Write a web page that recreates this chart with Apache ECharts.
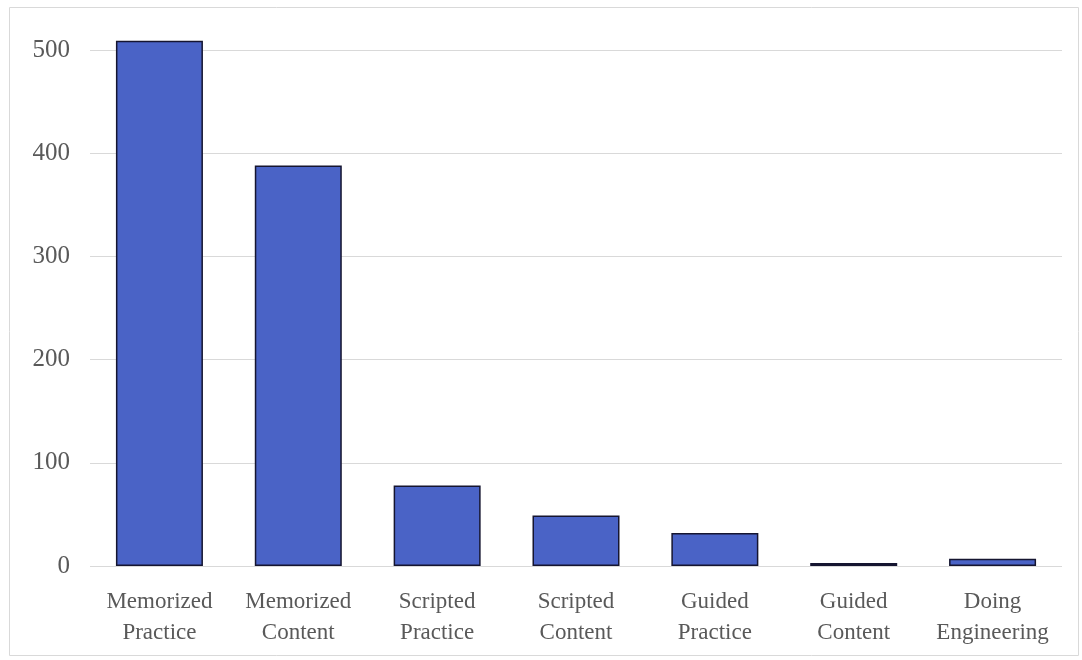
<!DOCTYPE html>
<html><head><meta charset="utf-8">
<script src="https://cdn.jsdelivr.net/npm/echarts@6/dist/echarts.min.js"></script>
<style>html,body{margin:0;padding:0;background:#fff}#c{width:1082px;height:660px}</style>
</head><body><div id="c"></div>
<script>
const categories = ["Memorized\nPractice","Memorized\nContent","Scripted\nPractice","Scripted\nContent","Guided\nPractice","Guided\nContent","Doing\nEngineering"];
const values = [509, 388, 78, 49, 32, 3, 7];
const yTicks = [0, 100, 200, 300, 400, 500];

const chart = echarts.init(document.getElementById('c'));
chart.setOption({
  animation: false,
  graphic: [{type:'rect', shape:{x:9.5,y:7.5,width:1069,height:648}, style:{fill:'none', stroke:'#d9d9d9', lineWidth:1}}],
  grid: {left: 90, right: 20, top: 50, bottom: 94},
  xAxis: {
    type: 'category', data: categories,
    axisLine: {show: false}, axisTick: {show: false},
    axisLabel: {fontFamily: 'Liberation Serif', fontSize: 23, color: '#595959', lineHeight: 31, margin: 20, interval: 0}
  },
  yAxis: {
    type: 'value', min: yTicks[0], max: yTicks[yTicks.length-1], interval: 100,
    axisLine: {show: false}, axisTick: {show: false},
    axisLabel: {fontFamily: 'Liberation Serif', fontSize: 25, color: '#595959', margin: 20},
    splitLine: {lineStyle: {color: '#d9d9d9', width: 1}}
  },
  series: [{
    type: 'bar', data: values, barWidth: 87, clip: false,
    itemStyle: {color: '#4a63c6', borderColor: '#151530', borderWidth: 1.5}
  }]
});
</script></body></html>
